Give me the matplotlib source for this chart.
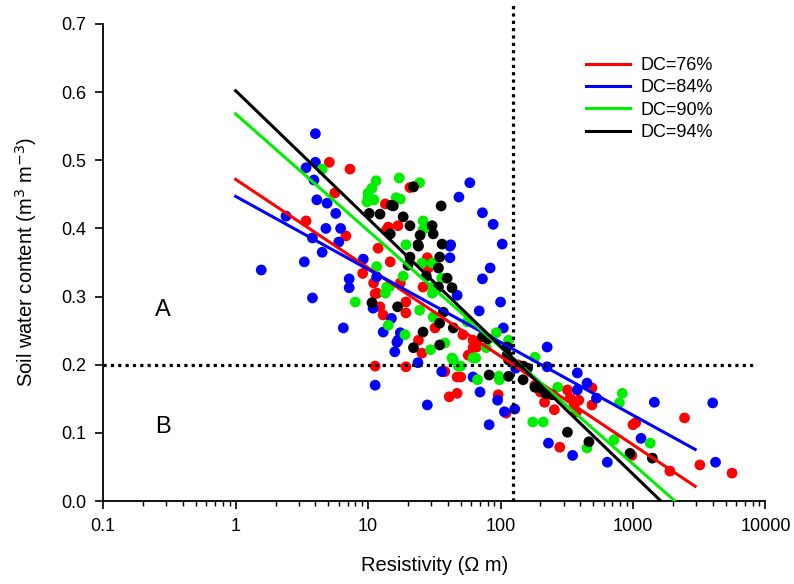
import numpy as np
import matplotlib
matplotlib.use("Agg")
import matplotlib.pyplot as plt
from matplotlib.ticker import FixedLocator, FixedFormatter, LogLocator

# measured points (resistivity in ohm m, soil water content in m3 m-3)
blue_x = [1.56, 2.4, 3.3, 3.4, 3.8, 3.8, 3.9, 4.0, 4.0, 4.1, 4.5, 4.8, 4.9, 5.7, 6.0, 6.2, 6.5, 7.2, 7.2, 9.2,
          10.9, 11.3, 11.6, 13.0, 15.0, 16.5, 15.9, 16.8, 17.5, 23.8, 28, 36, 41.5, 41.5, 42, 47, 48.5, 58.6,
          62, 69, 70, 73, 73, 82, 83.5, 88, 95, 100, 103, 105, 107, 128, 130, 225, 225, 230, 350, 380, 380,
          450, 530, 640, 1150, 1450, 4000, 4200]
blue_y = [0.339, 0.418, 0.351, 0.489, 0.386, 0.298, 0.471, 0.539, 0.497, 0.442, 0.365, 0.400, 0.437, 0.422,
          0.380, 0.400, 0.254, 0.326, 0.313, 0.355, 0.283, 0.170, 0.329, 0.248, 0.268, 0.233, 0.219, 0.236,
          0.247, 0.203, 0.141, 0.190, 0.374, 0.357, 0.376, 0.302, 0.446, 0.467, 0.182, 0.279, 0.160, 0.423,
          0.326, 0.112, 0.342, 0.406, 0.148, 0.292, 0.377, 0.254, 0.131, 0.135, 0.195, 0.226, 0.197, 0.085,
          0.067, 0.188, 0.163, 0.173, 0.151, 0.057, 0.092, 0.145, 0.144, 0.057]

red_x = [3.4, 5.1, 5.6, 6.8, 7.3, 9.1, 11.0, 11.3, 11.3, 11.7, 11.9, 12.3, 13.0, 13.8, 13.5, 14.2, 14.7, 16.8,
         17.5, 19.3, 19.3, 19.3, 20.7, 22, 24, 25.5, 26, 28, 28.5, 32, 38, 41, 47, 47, 50, 52, 57, 62, 62,
         66, 96, 110, 135, 182, 200, 215, 255, 280, 320, 335, 360, 375, 390, 490, 490, 980, 1000, 1050,
         1900, 2450, 3200, 5600]
red_y = [0.411, 0.497, 0.452, 0.389, 0.487, 0.334, 0.320, 0.304, 0.198, 0.305, 0.371, 0.285, 0.273, 0.398,
         0.436, 0.402, 0.351, 0.404, 0.320, 0.276, 0.292, 0.197, 0.460, 0.461, 0.236, 0.217, 0.314, 0.357,
         0.342, 0.254, 0.190, 0.153, 0.182, 0.158, 0.182, 0.244, 0.214, 0.225, 0.236, 0.226, 0.156, 0.129,
         0.200, 0.170, 0.160, 0.145, 0.134, 0.079, 0.163, 0.151, 0.141, 0.131, 0.148, 0.141, 0.166, 0.067,
         0.112, 0.115, 0.044, 0.122, 0.053, 0.041]

green_x = [4.5, 8.0, 9.8, 10, 10, 10.7, 11.1, 11.5, 11.6, 13.5, 13.8, 14.2, 14.6, 16.3, 17.2, 17.5, 18.4,
           19, 19.3, 24.5, 24.5, 25.5, 26, 26, 29.6, 30.6, 30.6, 31, 31, 36, 38, 43, 44, 48, 50, 56, 62, 65,
           67, 78, 93, 97, 98, 115, 175, 182, 210, 270, 450, 720, 790, 830, 1350]
green_y = [0.487, 0.292, 0.439, 0.446, 0.452, 0.459, 0.442, 0.470, 0.344, 0.305, 0.314, 0.258, 0.315, 0.445,
           0.474, 0.443, 0.330, 0.244, 0.376, 0.280, 0.467, 0.349, 0.411, 0.398, 0.222, 0.305, 0.349, 0.270,
           0.314, 0.327, 0.232, 0.210, 0.207, 0.198, 0.198, 0.263, 0.210, 0.210, 0.178, 0.225, 0.247, 0.183,
           0.178, 0.236, 0.116, 0.211, 0.116, 0.167, 0.078, 0.090, 0.144, 0.158, 0.085]

black_x = [10.2, 10.7, 12.3, 14.7, 15, 15.5, 16.7, 18.4, 20, 20.7, 20.7, 22, 22, 23.8, 24, 24.7, 26, 27.5,
           30.4, 31, 34, 34, 34.7, 34.7, 34.7, 35.6, 36.2, 37, 39.5, 43, 44, 73, 80, 82, 112, 112, 115, 115,
           148, 148, 160, 182, 200, 220, 230, 245, 320, 465, 950, 1400]
black_y = [0.422, 0.291, 0.421, 0.392, 0.434, 0.433, 0.285, 0.417, 0.346, 0.404, 0.358, 0.461, 0.225, 0.376,
           0.374, 0.390, 0.248, 0.330, 0.404, 0.392, 0.314, 0.342, 0.358, 0.261, 0.229, 0.433, 0.377, 0.277,
           0.327, 0.313, 0.254, 0.241, 0.238, 0.185, 0.214, 0.226, 0.207, 0.183, 0.198, 0.178, 0.195, 0.167,
           0.166, 0.158, 0.158, 0.156, 0.101, 0.087, 0.070, 0.063]

# fitted lines: y = a + b*log10(x), drawn from x=1 to x_end
labels = ["DC=76%", "DC=84%", "DC=90%", "DC=94%"]
colors = ["#ff0000", "#0000ff", "#00ee00", "#000000"]
intercepts = [0.472, 0.447, 0.568, 0.602]
slopes = [-0.1298, -0.107, -0.1712, -0.1875]
x_ends = [2950, 2950, 2075, 1627]

x_thresh = 125
y_thresh = 0.2

plt.rcParams['font.family'] = ['Liberation Sans', 'DejaVu Sans']

fig = plt.figure(figsize=(7.94, 5.84), dpi=100)
ax = fig.add_axes([0.13, 0.142, 0.834, 0.817])

points = [(red_x, red_y), (blue_x, blue_y), (green_x, green_y), (black_x, black_y)]
for (px, py), c in zip(points, colors):
    ax.scatter(px, py, s=60, color=c, edgecolors='none', zorder=3)

for a, b, xe, c, lab in zip(intercepts, slopes, x_ends, colors, labels):
    xx = np.logspace(0, np.log10(xe), 50)
    ax.plot(xx, a + b * np.log10(xx), color=c, lw=2.2, label=lab, zorder=4)

ax.plot([0.1, 8600], [y_thresh, y_thresh], color='black', lw=2.3,
        linestyle=(0, (1, 1.3)), dash_capstyle='butt', clip_on=False, zorder=5)
ax.plot([x_thresh, x_thresh], [0, 0.728], color='black', lw=2.3,
        linestyle=(0, (1, 1.3)), dash_capstyle='butt', clip_on=False, zorder=5)

ax.text(0.284, 0.28, "A", fontsize=17, ha='center', va='center')
ax.text(0.284, 0.109, "B", fontsize=17, ha='center', va='center')

ax.set_xscale('log')
ax.set_xlim(0.1, 10000)
ax.set_ylim(0, 0.7)
ax.xaxis.set_major_locator(FixedLocator([0.1, 1, 10, 100, 1000, 10000]))
ax.xaxis.set_major_formatter(FixedFormatter(["0.1", "1", "10", "100", "1000", "10000"]))
ax.xaxis.set_minor_locator(LogLocator(base=10, subs=np.arange(2, 10)))
ax.xaxis.set_minor_formatter(FixedFormatter([]))
ax.set_yticks(np.arange(0, 0.71, 0.1))
ax.set_yticklabels([f"{v:.1f}" for v in np.arange(0, 0.71, 0.1)])

ax.spines['top'].set_visible(False)
ax.spines['right'].set_visible(False)
ax.spines['left'].set_linewidth(1.3)
ax.spines['bottom'].set_linewidth(1.3)
ax.tick_params(which='major', direction='out', length=6, width=1.2, labelsize=13, pad=6)
ax.tick_params(which='minor', direction='out', length=3.5, width=1.0)

ax.set_xlabel("Resistivity (\u03a9 m)", fontsize=14.5, labelpad=15)
ax.set_ylabel("Soil water content (m$^3$ m$^{-3}$)", fontsize=14.5, labelpad=16)

ax.legend(loc='upper left', bbox_to_anchor=(0.705, 0.965), frameon=False, fontsize=13,
          handlelength=2.4, labelspacing=0.3, handletextpad=0.6)

fig.savefig("out.png", dpi=100)
